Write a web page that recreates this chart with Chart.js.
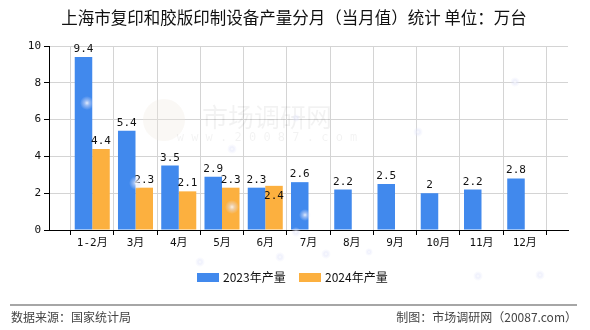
<!DOCTYPE html>
<html>
<head>
<meta charset="utf-8">
<script src="https://cdn.jsdelivr.net/npm/chart.js@4.4.1/dist/chart.umd.min.js"></script>
<style>
html, body { margin: 0; padding: 0; background: #fff; }
#wrap { width: 590px; height: 330px; }
</style>
</head>
<body>
<div id="wrap"><canvas id="chart" width="590" height="330"></canvas></div>
<script>
var months = ["1-2月", "3月", "4月", "5月", "6月", "7月", "8月", "9月", "10月", "11月", "12月"];
var output2023 = [9.4, 5.4, 3.5, 2.9, 2.3, 2.6, 2.2, 2.5, 2, 2.2, 2.8];
var output2024 = [4.4, 2.3, 2.1, 2.3, 2.4, null, null, null, null, null, null];
var yTicks = [0, 2, 4, 6, 8, 10];

var titleText = "上海市复印和胶版印制设备产量分月（当月值）统计 单位：万台";
var sourceText = "数据来源：国家统计局";
var creditText = "制图：市场调研网（20087.com）";

var blue = "#4189ED";
var orange = "#FCB03F";
var numFont = "'DejaVu Sans Mono', 'Noto Sans CJK SC', monospace";
var cjkFont = "'Noto Sans CJK SC', sans-serif";

// one blank slot on each side so the groups sit on the inner ticks
var labels = [""].concat(months, [""]);
var pad = function(arr) { return [null].concat(arr, [null]); };

// soft glow spots scattered over the background
var glows = [[87, 103, 7], [136, 183, 7], [232, 207, 7], [305, 215, 6], [296, 232, 5],
             [232, 149, 5], [296, 118, 4], [418, 132, 5], [515, 82, 5], [200, 262, 5],
             [280, 257, 5], [326, 254, 5], [369, 252, 4], [478, 276, 5], [540, 275, 5]];

var decor = {
    id: "decor",
    beforeDatasetsDraw: function(chart) {
        var ctx = chart.ctx;
        ctx.save();
        // watermark
        ctx.fillStyle = "rgba(240, 232, 222, 0.3)";
        ctx.beginPath();
        ctx.arc(164, 120, 21, 0, Math.PI * 2);
        ctx.fill();
        ctx.fillStyle = "rgba(0, 0, 0, 0.05)";
        ctx.font = "26px " + cjkFont;
        ctx.textAlign = "center";
        ctx.textBaseline = "middle";
        ctx.fillText("市场调研网", 267, 117);
        ctx.font = "12px " + numFont;
        ctx.fillText("w w w . 2 0 0 8 7 . c o m", 267, 138);
        ctx.restore();
    },
    afterDraw: function(chart) {
        var ctx = chart.ctx;
        ctx.save();

        // title
        ctx.fillStyle = "#111";
        ctx.font = "16.5px " + cjkFont;
        ctx.textAlign = "center";
        ctx.textBaseline = "middle";
        ctx.fillText(titleText, 294, 18);

        // legend
        ctx.font = "12px " + cjkFont;
        ctx.textAlign = "left";
        ctx.fillStyle = blue;
        ctx.fillRect(197, 273, 22, 9);
        ctx.fillStyle = "#111";
        ctx.fillText(chart.data.datasets[0].label, 223, 277.5);
        ctx.fillStyle = orange;
        ctx.fillRect(299, 273, 22, 9);
        ctx.fillStyle = "#111";
        ctx.fillText(chart.data.datasets[1].label, 325, 277.5);

        // footer
        ctx.strokeStyle = "#888";
        ctx.lineWidth = 1.5;
        ctx.beginPath();
        ctx.moveTo(10, 305);
        ctx.lineTo(577, 305);
        ctx.stroke();
        ctx.fillStyle = "#444";
        ctx.font = "12px " + cjkFont;
        ctx.fillText(sourceText, 11, 317);
        ctx.textAlign = "right";
        ctx.fillText(creditText, 577, 317);

        glows.forEach(function(g) {
            var grd = ctx.createRadialGradient(g[0], g[1], 0, g[0], g[1], g[2]);
            grd.addColorStop(0, "rgba(255, 255, 255, 0.85)");
            grd.addColorStop(0.4, "rgba(225, 228, 250, 0.5)");
            grd.addColorStop(1, "rgba(225, 228, 250, 0)");
            ctx.fillStyle = grd;
            ctx.beginPath();
            ctx.arc(g[0], g[1], g[2], 0, Math.PI * 2);
            ctx.fill();
        });
        ctx.restore();
    }
};

// value labels above bars; a label that would collide goes just inside its bar
var valueLabels = {
    id: "valueLabels",
    afterDatasetsDraw: function(chart) {
        var ctx = chart.ctx;
        var placed = [];
        ctx.save();
        ctx.font = "11px " + numFont;
        ctx.fillStyle = "#111";
        ctx.textAlign = "center";
        ctx.textBaseline = "alphabetic";
        chart.data.datasets.forEach(function(ds, di) {
            chart.getDatasetMeta(di).data.forEach(function(bar, i) {
                var v = ds.data[i];
                if (v === null) return;
                var txt = String(v);
                var w = ctx.measureText(txt).width;
                var base = bar.y - 5;
                var box = { l: bar.x - w / 2, r: bar.x + w / 2, t: base - 8, b: base };
                var hit = placed.some(function(p) {
                    return box.l < p.r && box.r > p.l && box.t < p.b && box.b > p.t;
                });
                if (hit) {
                    base = bar.y + 13;
                    box = { l: bar.x - w / 2, r: bar.x + w / 2, t: base - 8, b: base };
                }
                placed.push(box);
                ctx.fillText(txt, bar.x, base);
            });
        });
        ctx.restore();
    }
};

var chart = new Chart(document.getElementById("chart"), {
    type: "bar",
    data: {
        labels: labels,
        datasets: [{
            label: "2023年产量",
            data: pad(output2023),
            backgroundColor: blue
        }, {
            label: "2024年产量",
            data: pad(output2024),
            backgroundColor: orange
        }]
    },
    options: {
        responsive: false,
        animation: false,
        devicePixelRatio: 1,
        categoryPercentage: 0.81,
        barPercentage: 1,
        layout: { padding: { top: 46, left: 0, right: 22, bottom: 78 } },
        plugins: {
            legend: { display: false },
            title: { display: false },
            tooltip: { enabled: false }
        },
        scales: {
            x: {
                offset: false,
                afterFit: function(scale) { scale.height = 22; },
                grid: { color: "#d4d4d4", tickColor: "#000", tickLength: 5 },
                border: { color: "#000", width: 1 },
                ticks: {
                    autoSkip: false,
                    maxRotation: 0,
                    padding: 2,
                    color: "#111",
                    font: { family: numFont, size: 11 }
                }
            },
            y: {
                min: yTicks[0],
                max: yTicks[yTicks.length - 1],
                afterFit: function(scale) { scale.width = 49; },
                afterBuildTicks: function(scale) {
                    scale.ticks = yTicks.map(function(v) { return { value: v }; });
                },
                grid: { color: "#d4d4d4", tickColor: "#000", tickLength: 5 },
                border: { color: "#000", width: 1 },
                ticks: {
                    padding: 3,
                    color: "#111",
                    font: { family: numFont, size: 11 }
                }
            }
        }
    },
    plugins: [decor, valueLabels]
});
</script>
</body>
</html>
